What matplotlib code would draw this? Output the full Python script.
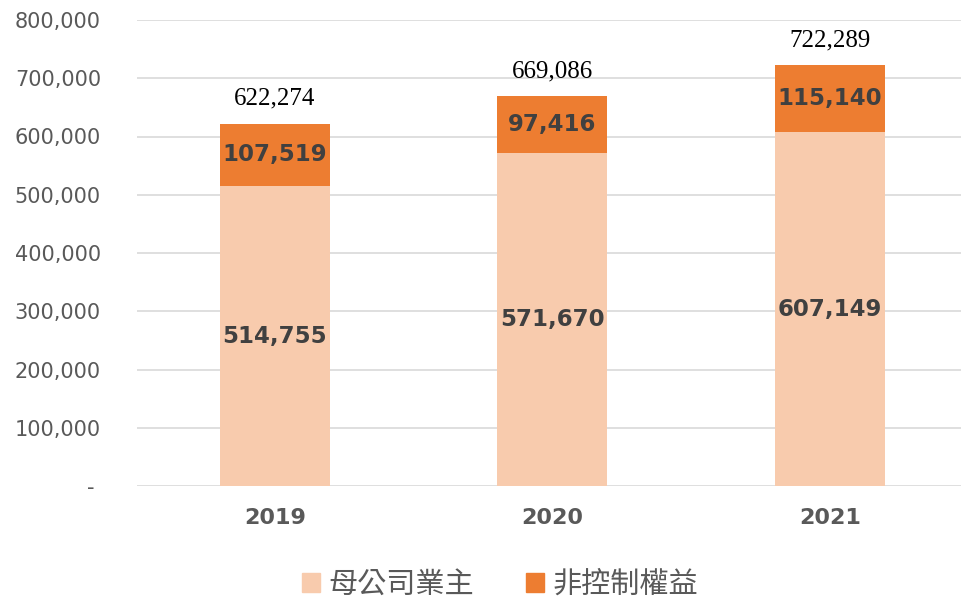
import matplotlib.pyplot as plt
from matplotlib.patches import Patch
import numpy as np

years = ["2019", "2020", "2021"]
parent = [514755, 571670, 607149]
minority = [107519, 97416, 115140]
totals = [622274, 669086, 722289]
yticks = [0, 100000, 200000, 300000, 400000, 500000, 600000, 700000, 800000]

light = "#F8CBAD"
dark = "#ED7D31"
gray = "#595959"

fig = plt.figure(figsize=(9.62, 6.01), dpi=100)
ax = fig.add_axes([137 / 962, 1 - 486 / 601, 1 - 137 / 962, (486 - 20) / 601])

x = np.arange(len(years))
w = 0.396
ax.bar(x, parent, w, color=light, zorder=2)
ax.bar(x, minority, w, bottom=parent, color=dark, zorder=2)

for i in range(len(years)):
    ax.text(x[i], parent[i] / 2, f"{parent[i]:,}", ha="center", va="center",
            fontsize=16.5, fontweight="bold", color="#404040", family="DejaVu Sans")
    ax.text(x[i], parent[i] + minority[i] / 2, f"{minority[i]:,}", ha="center", va="center",
            fontsize=16.5, fontweight="bold", color="#404040", family="DejaVu Sans")
    ax.annotate(f"{totals[i]:,}", (x[i], totals[i]), xytext=(0, 18), textcoords="offset points",
                ha="center", va="center", fontsize=18, color="black", family="Liberation Serif")

ax.set_ylim(0, 800000)
ax.set_xlim(-0.497, 2.476)
ax.set_yticks(yticks)
ax.set_yticklabels(["- "] + [f"{v:,}" for v in yticks[1:]], fontsize=15, color=gray)
ax.set_xticks(x)
ax.set_xticklabels(years, fontsize=16, fontweight="bold", color=gray, family="DejaVu Sans")
ax.tick_params(axis="both", length=0)
ax.tick_params(axis="y", pad=26)
ax.tick_params(axis="x", pad=16)
ax.grid(axis="y", color="#d9d9d9", linewidth=1.2, zorder=0)
for s in ax.spines.values():
    s.set_visible(False)

handles = [Patch(color=light), Patch(color=dark)]
fig.legend(handles, ["母公司業主", "非控制權益"], loc="center", bbox_to_anchor=(0.52, 1 - 585 / 601),
           ncol=2, frameon=False, prop={"family": ["Noto Sans CJK TC", "DejaVu Sans"], "size": 21},
           labelcolor=gray, handlelength=0.6, handleheight=0.6, handletextpad=0.3, columnspacing=1.8)

fig.savefig("out.png", dpi=100)
